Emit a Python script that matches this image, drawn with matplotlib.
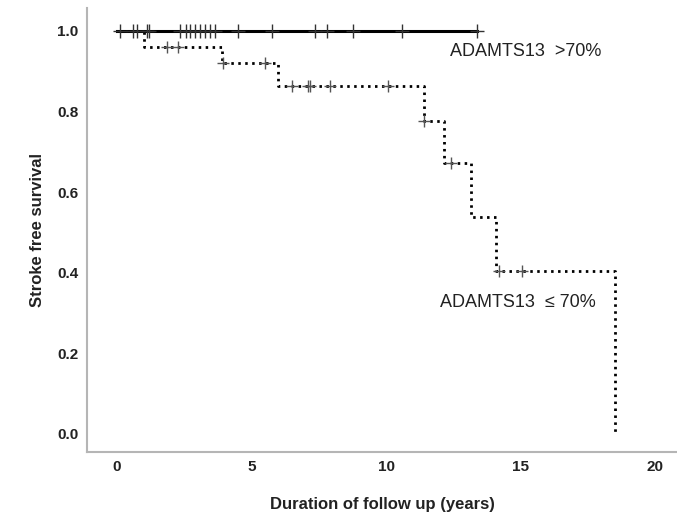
import matplotlib
matplotlib.use("Agg")
import matplotlib.pyplot as plt
import numpy as np

plt.rcParams['font.family'] = ['Liberation Sans', 'DejaVu Sans']

# Kaplan-Meier steps, ADAMTS13 <= 70%
low_times = [0.0, 1.0, 3.9, 6.0, 11.4, 12.15, 13.15, 14.1, 18.5]
low_surv = [1.0, 0.96, 0.92, 0.8625, 0.776, 0.672, 0.538, 0.403, 0.0]
low_end = 18.5
low_censor = [1.86, 2.27, 3.95, 5.5, 6.5, 7.1, 7.17, 7.9, 10.07, 11.4,
              12.4, 14.2, 15.05]

# ADAMTS13 > 70% (no events)
high_end = 13.4
high_censor = [0.1, 0.6, 0.74, 1.1, 1.2, 2.35, 2.55, 2.72, 2.9, 3.1, 3.28,
               3.46, 3.64, 4.5, 5.76, 7.36, 7.8, 8.77, 10.6, 13.4]

x_ticks = [0, 5, 10, 15, 20]
y_ticks = [0.0, 0.2, 0.4, 0.6, 0.8, 1.0]


def surv_at(t, times, surv):
    idx = np.searchsorted(times, t, side='right') - 1
    return np.asarray(surv)[idx]


def main():
    fig = plt.figure(figsize=(6.77, 5.17), dpi=100)
    ax = fig.add_axes([0.1285, 0.1257, 0.8715, 0.859])

    # dotted step curve for the low group
    xs = list(low_times) + [low_end]
    ys = list(low_surv) + [low_surv[-1]]
    ax.step(xs, ys, where='post', color='black', lw=2.0,
            linestyle=(0, (0.9, 1.6)), zorder=2)
    ax.plot(low_censor, surv_at(low_censor, low_times, low_surv), '+',
            color='#555555', ms=9, mew=1.0, zorder=3)

    # solid line for the high group
    ax.plot([0, high_end], [1.0, 1.0], color='black', lw=2.2, zorder=4)
    ax.plot(high_censor, np.ones(len(high_censor)), '+', color='#333333',
            ms=10, mew=1.0, zorder=5)

    ax.text(12.38, 0.95, 'ADAMTS13  >70%', fontsize=13, color='#222222',
            va='center', ha='left')
    ax.text(12.0, 0.327, 'ADAMTS13  \u2264 70%', fontsize=13, color='#222222',
            va='center', ha='left')

    ax.set_xlim(-1.12, 20.82)
    ax.set_ylim(-0.045, 1.057)
    ax.set_xticks(x_ticks)
    ax.set_yticks(y_ticks)
    ax.set_yticklabels([f'{v:.1f}' for v in y_ticks])
    ax.tick_params(length=0, labelsize=11, labelcolor='#222222', pad=6)
    for lab in ax.get_xticklabels() + ax.get_yticklabels():
        lab.set_fontweight('bold')

    for side in ['top', 'right']:
        ax.spines[side].set_visible(False)
    for side in ['left', 'bottom']:
        ax.spines[side].set_color('#b5b5b5')
        ax.spines[side].set_linewidth(1.5)

    ax.set_xlabel('Duration of follow up (years)', fontsize=12,
                  fontweight='bold', color='#222222', labelpad=16)
    ax.set_ylabel('Stroke free survival', fontsize=12, fontweight='bold',
                  color='#222222', labelpad=9)

    fig.savefig('out.png', dpi=100)


if __name__ == '__main__':
    main()
